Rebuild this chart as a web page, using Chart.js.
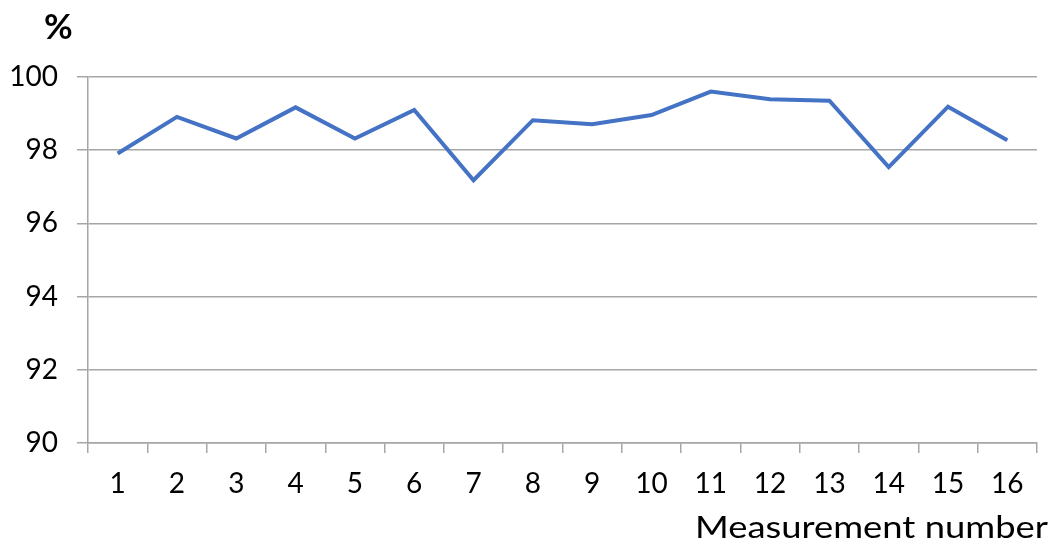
<!DOCTYPE html>
<html>
<head>
<meta charset="utf-8">
<script src="https://cdn.jsdelivr.net/npm/chart.js@4.4.1/dist/chart.umd.min.js"></script>
<style>
  html, body { margin: 0; padding: 0; background: #fff; }
  #wrap { width: 1055px; height: 547px; }
</style>
</head>
<body>
<div id="wrap"><canvas id="lineChart"></canvas></div>
<script>
const measurements = ["1", "2", "3", "4", "5", "6", "7", "8", "9", "10", "11", "12", "13", "14", "15", "16"];
const percent = [97.91, 98.91, 98.32, 99.17, 98.32, 99.10, 97.18, 98.82, 98.71, 98.96, 99.60, 99.39, 99.35, 97.54, 99.19, 98.27];
const yTicks = [90, 92, 94, 96, 98, 100];

const fontName = "Lato, 'Open Sans', sans-serif";

// unit label above the y axis and the x axis caption at the bottom right
const captions = {
  id: "captions",
  afterDraw(chart) {
    const ctx = chart.ctx;
    ctx.save();
    ctx.fillStyle = "#000";
    ctx.textBaseline = "alphabetic";
    ctx.font = "bold 35px " + fontName;
    ctx.textAlign = "left";
    ctx.fillText("%", 44, 39);

    // caption is set a bit wide, stretch it to span ~353px
    const text = "Measurement number";
    ctx.font = "30px " + fontName;
    const w = ctx.measureText(text).width;
    const sx = 353 / w;
    ctx.translate(695, 538);
    ctx.scale(sx, 1);
    ctx.textAlign = "left";
    ctx.fillText(text, 0, 0);
    ctx.restore();
  }
};

const ctx = document.getElementById("lineChart");
const myChart = new Chart(ctx, {
  type: "line",
  data: {
    labels: measurements,
    datasets: [
      {
        label: "%",
        data: percent,
        borderColor: "#4472C4",
        backgroundColor: "#4472C4",
        borderWidth: 4,
        pointRadius: 0,
        tension: 0,
        fill: false,
      },
    ],
  },
  options: {
    responsive: true,
    maintainAspectRatio: false,
    animation: false,
    layout: { padding: { top: 77, right: 18, left: 0, bottom: 0 } },
    plugins: {
      legend: { display: false },
      tooltip: { enabled: false },
    },
    scales: {
      x: {
        offset: true,
        grid: {
          offset: true,
          drawOnChartArea: false,
          drawTicks: true,
          tickLength: 10,
          color: "#a6a6a6",
          lineWidth: 1.5,
        },
        border: { color: "#a6a6a6", width: 1.5 },
        ticks: {
          color: "#000",
          font: { family: fontName, size: 28 },
          padding: 14,
          maxRotation: 0,
          autoSkip: false,
        },
        afterFit(scale) { scale.height = 104; },
      },
      y: {
        min: 90,
        max: 100,
        afterBuildTicks(scale) { scale.ticks = yTicks.map(v => ({ value: v })); },
        grid: {
          color: "#a6a6a6",
          lineWidth: 1.5,
          tickLength: 11,
        },
        border: { color: "#a6a6a6", width: 1.5 },
        ticks: {
          color: "#000",
          font: { family: fontName, size: 28 },
          padding: 19,
        },
        afterFit(scale) { scale.width = 88; },
      },
    },
  },
  plugins: [captions],
});
</script>
</body>
</html>
